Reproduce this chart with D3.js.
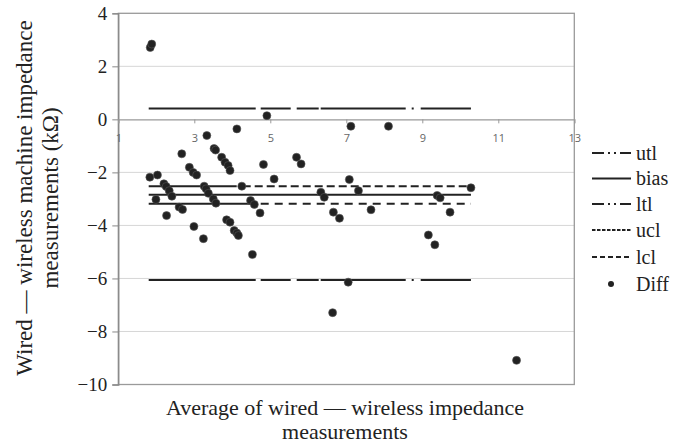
<!DOCTYPE html>
<html><head><meta charset="utf-8">
<script src="https://cdn.jsdelivr.net/npm/d3@7"></script>
<style>body{margin:0;background:#fff;}svg{display:block;}</style>
</head><body>
<script>
// ---- data ----
const avgValues = [1.84,1.88,1.83,2.03,1.99,2.20,2.26,2.34,2.41,2.27,2.60,2.69,2.67,2.87,2.97,3.06,2.99,3.24,3.26,3.31,3.37,3.50,3.57,3.33,3.52,3.56,3.72,3.81,3.89,3.94,3.85,3.94,4.05,4.12,4.16,4.12,4.25,4.53,4.48,4.58,4.73,4.82,4.91,5.10,5.69,5.81,6.33,6.42,6.66,6.82,6.64,7.05,7.08,7.12,8.11,7.32,7.65,9.39,9.47,9.73,10.28,9.16,9.33,11.48];
const diffValues = [2.71,2.84,-2.18,-2.10,-3.02,-2.43,-2.53,-2.69,-2.90,-3.63,-3.31,-3.40,-1.30,-1.81,-2.00,-2.10,-4.04,-4.50,-2.52,-2.62,-2.79,-3.00,-3.16,-0.61,-1.10,-1.16,-1.43,-1.62,-1.74,-1.93,-3.79,-3.88,-4.19,-4.29,-4.38,-0.36,-2.52,-5.10,-3.06,-3.21,-3.53,-1.70,0.14,-2.25,-1.43,-1.68,-2.75,-2.94,-3.50,-3.73,-7.29,-6.14,-2.27,-0.26,-0.26,-2.69,-3.41,-2.87,-2.96,-3.50,-2.58,-4.36,-4.73,-9.09];
const limitNames = ["utl","bias","ltl","ucl","lcl"];
const limitValues = [0.41,-2.84,-6.06,-2.52,-3.18];
const limitXRange = [1.8,10.28];
const xTicks = [1,3,5,7,9,11,13];
const yTicks = [-10,-8,-6,-4,-2,0,2,4];
const legendNames = ["utl","bias","ltl","ucl","lcl","Diff"];

// ---- layout ----
const W=685,H=443;
const svg=d3.select("body").append("svg").attr("width",W).attr("height",H);
const x=d3.scaleLinear().domain([1,13]).range([118.3,574.3]);
const y=d3.scaleLinear().domain([-10,4]).range([384.5,13.3]);
const serif="'Liberation Serif','Times New Roman',serif";
const ink="#222";

// gridlines
svg.append("g").selectAll("line").data(yTicks.filter(v=>v>-10&&v<4&&v!==0)).join("line")
  .attr("x1",x(1)).attr("x2",x(13)).attr("y1",d=>y(d)).attr("y2",d=>y(d))
  .attr("stroke","#d6d6d6").attr("stroke-width",1);

// frame
svg.append("rect").attr("x",x(1)).attr("y",y(4)).attr("width",x(13)-x(1)).attr("height",y(-10)-y(4))
  .attr("fill","none").attr("stroke","#9a9a9a").attr("stroke-width",1.3);

// y axis
const yAxis=svg.append("g").attr("transform",`translate(${x(1)},0)`)
  .call(d3.axisLeft(y).tickValues(yTicks).tickSize(6).tickPadding(5).tickFormat(d=>d<0?"\u2212"+Math.abs(d):d));
yAxis.select(".domain").attr("stroke","#888").attr("stroke-width",1.3);
yAxis.selectAll(".tick line").attr("stroke","#888");
yAxis.selectAll("text").attr("font-family",serif).attr("font-size",19).attr("fill",ink);

// x axis at y=0
const xAxis=svg.append("g").attr("transform",`translate(0,${y(0)})`)
  .call(d3.axisBottom(x).tickValues(xTicks).tickSize(4).tickPadding(11).tickFormat(d3.format("d")));
xAxis.select(".domain").attr("stroke","#999").attr("stroke-width",1.2);
xAxis.selectAll(".tick line").attr("stroke","#999");
xAxis.selectAll("text").attr("font-family","'Open Sans','DejaVu Sans',sans-serif").attr("font-size",11).attr("fill","#666");

// limit lines
const rep=(a,n)=>Array.from({length:n},()=>a).flat();
const plotDash={
  utl:"107,5,30,6,22,2,85,6,2,7,60",
  bias:null,
  ltl:"107,5,30,6,22,2,85,6,2,7,60",
  ucl:[88,6].concat(rep([8,4],40)).join(","),
  lcl:[108,4].concat(rep([8,6],40)).join(",")
};
limitNames.forEach((n,i)=>{
  svg.append("line").attr("x1",x(limitXRange[0])).attr("x2",x(limitXRange[1]))
    .attr("y1",y(limitValues[i])).attr("y2",y(limitValues[i]))
    .attr("stroke",ink).attr("stroke-width",2)
    .attr("stroke-dasharray",plotDash[n]);
});

// points
svg.append("g").selectAll("circle").data(avgValues.map((a,i)=>[a,diffValues[i]])).join("circle")
  .attr("cx",d=>x(d[0])).attr("cy",d=>y(d[1])).attr("r",4)
  .attr("fill",ink).attr("stroke","#555").attr("stroke-width",0.6);

// legend
const legDash={utl:"12,4,2,4,2,4",bias:null,ltl:"12,4,2,4,2,4",ucl:"3.5,1.5",lcl:"5,3"};
const legY=[153,178.5,204,230,257,284];
const lg=svg.append("g");
legendNames.forEach((n,i)=>{
  if(n==="Diff"){
    lg.append("circle").attr("cx",611).attr("cy",legY[i]).attr("r",3).attr("fill",ink);
  } else {
    lg.append("line").attr("x1",592).attr("x2",631).attr("y1",legY[i]).attr("y2",legY[i])
      .attr("stroke",ink).attr("stroke-width",2).attr("stroke-dasharray",legDash[n]);
  }
  lg.append("text").attr("x",636).attr("y",legY[i]).attr("dy","0.33em")
    .attr("font-family",serif).attr("font-size",20).attr("fill",ink).text(n);
});

// axis titles
const yt=svg.append("text").attr("transform","translate(0,198) rotate(-90)")
  .attr("font-family",serif).attr("font-size",23).attr("fill",ink).attr("text-anchor","middle");
yt.append("tspan").attr("x",0).attr("y",32).text("Wired \u2014 wireless machine impedance");
yt.append("tspan").attr("x",0).attr("y",58).text("measurements  (k\u03A9)");

svg.append("text").attr("font-family",serif).attr("font-size",22).attr("fill",ink).attr("text-anchor","middle")
  .attr("x",345).attr("y",415).text("Average of wired \u2014 wireless impedance");
svg.append("text").attr("font-family",serif).attr("font-size",22).attr("fill",ink).attr("text-anchor","middle")
  .attr("x",345).attr("y",439).text("measurements");
</script>
</body></html>
